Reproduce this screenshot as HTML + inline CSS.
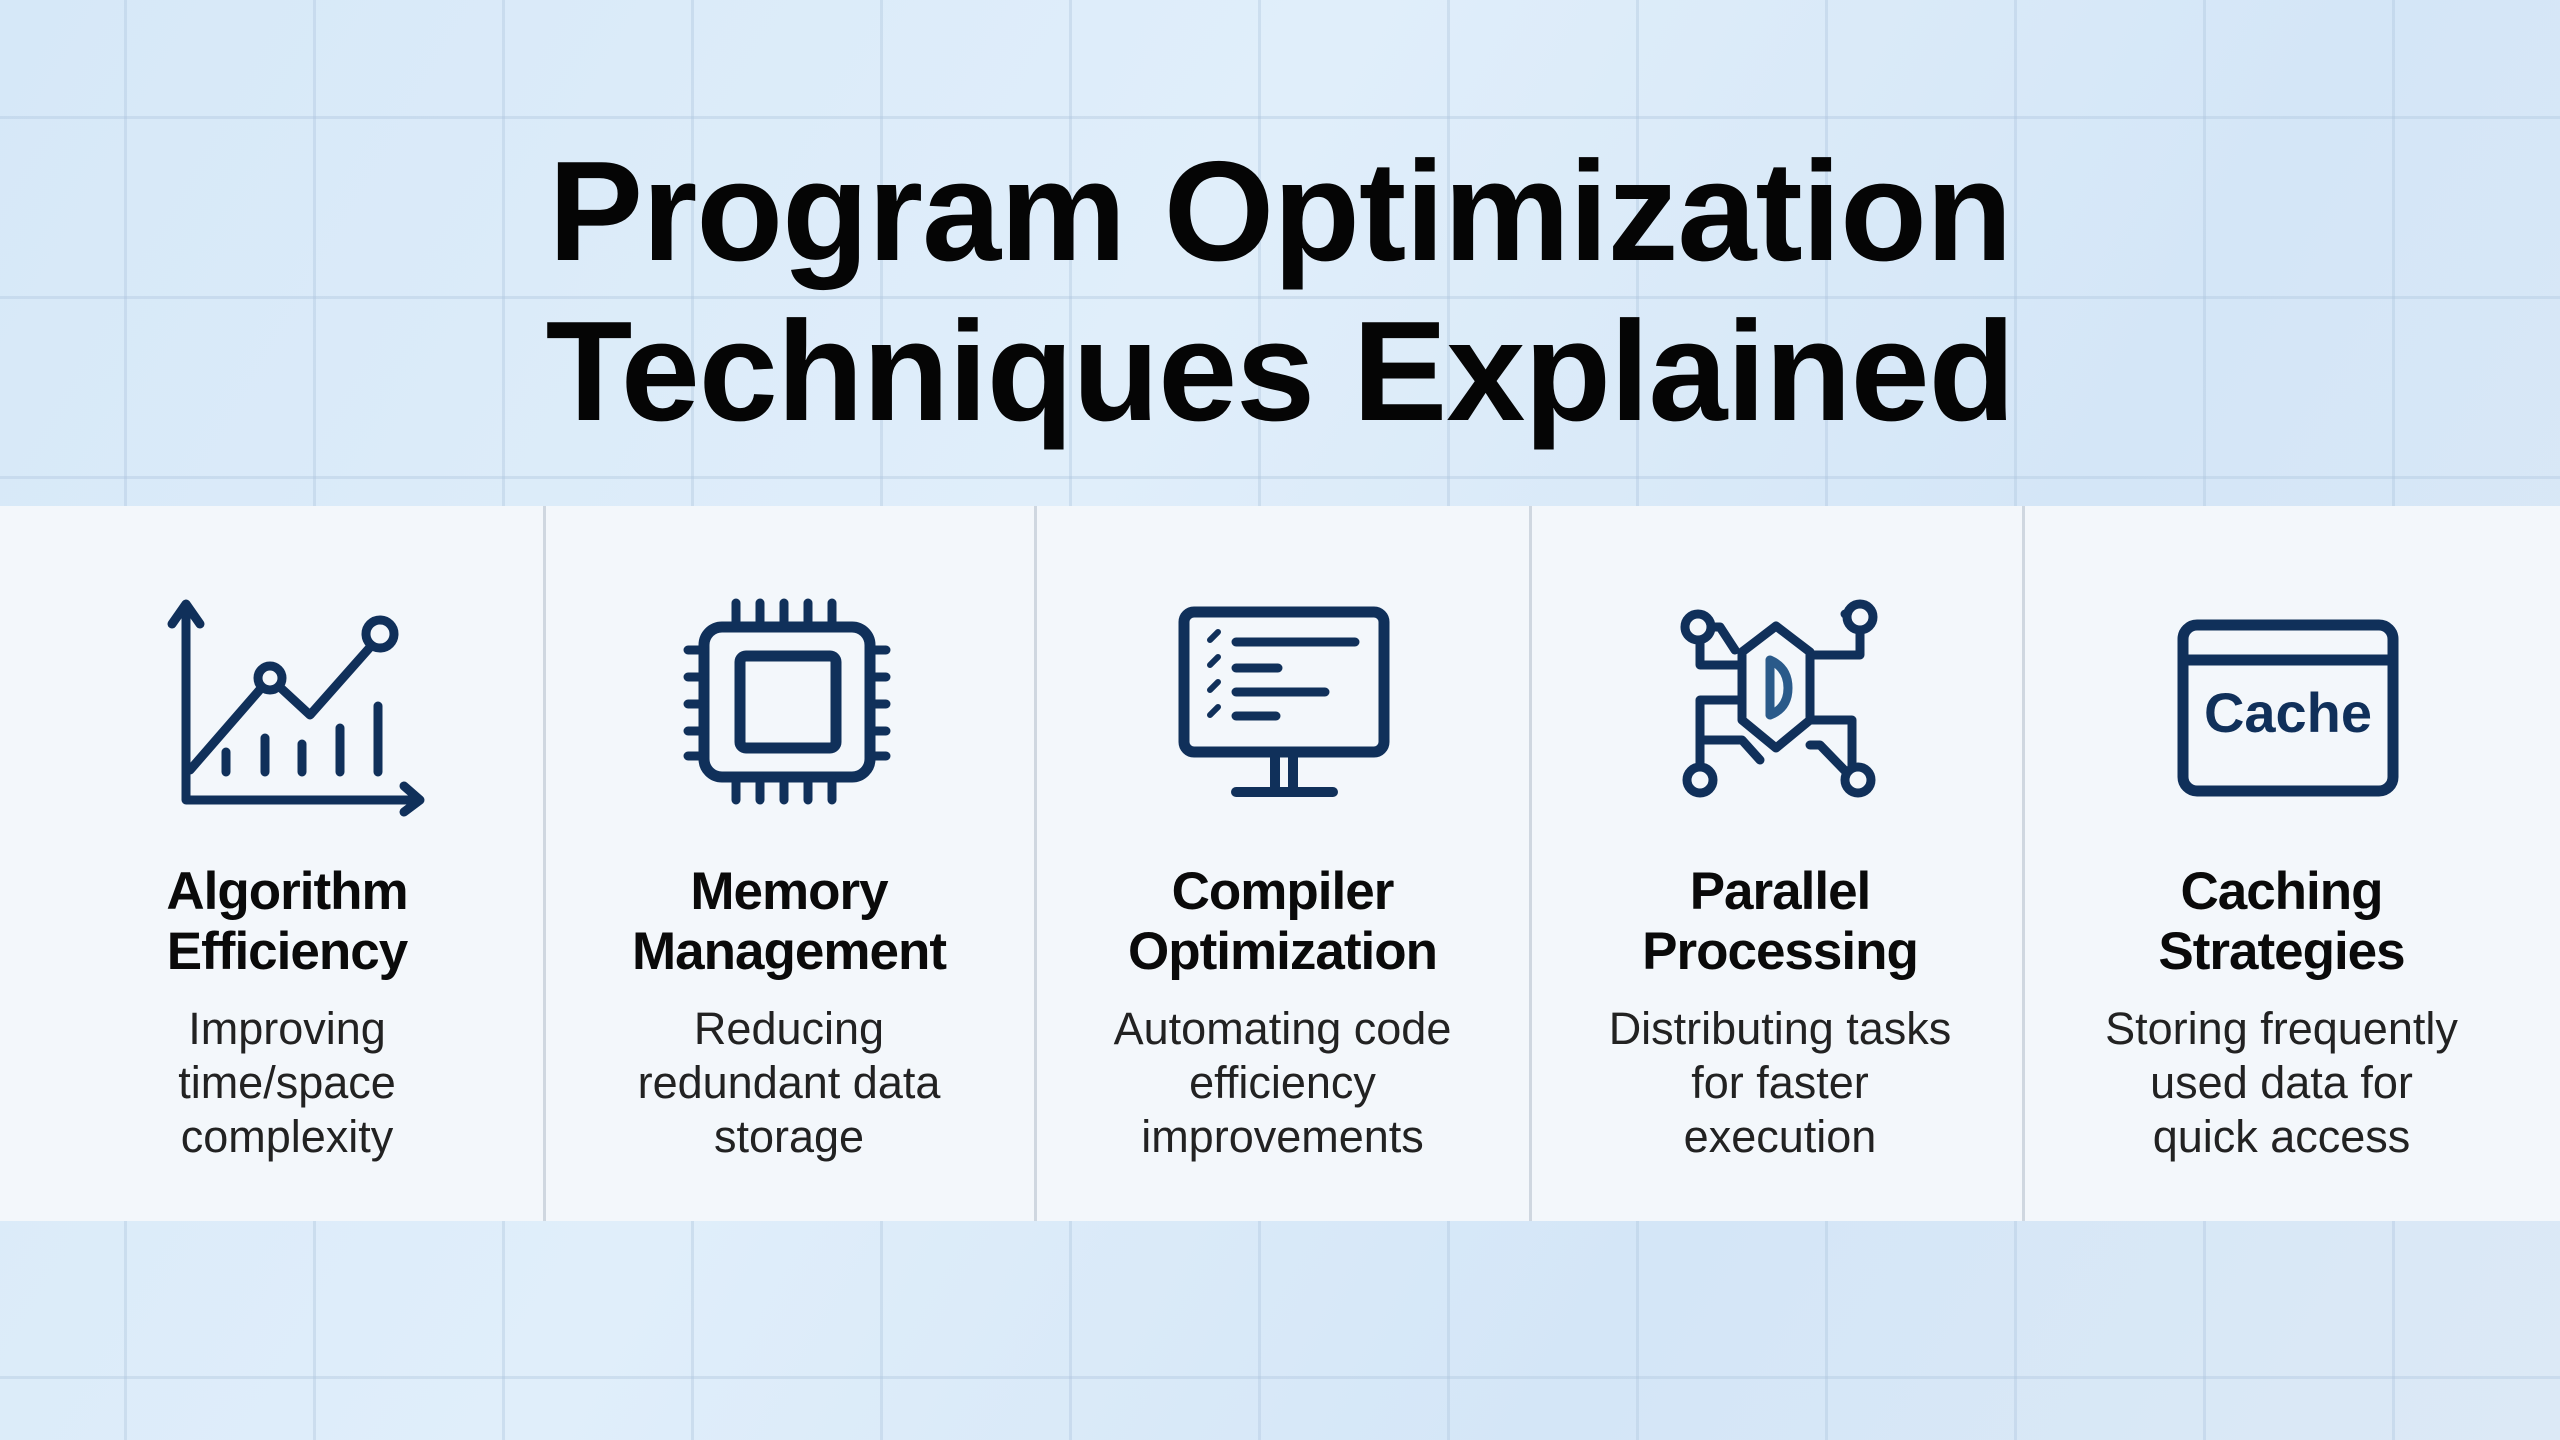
<!DOCTYPE html>
<html><head><meta charset="utf-8"><style>
html,body{margin:0;padding:0}
body{width:2560px;height:1440px;overflow:hidden;position:relative;font-family:"Liberation Sans",sans-serif;
background:linear-gradient(120deg,#d6e8f8 0%,#e0eefa 40%,#d4e6f7 70%,#dce9f6 100%);}
.grid{position:absolute;inset:0;
background-image:linear-gradient(90deg,rgba(175,198,222,.4) 3px,transparent 3px),linear-gradient(0deg,rgba(175,198,222,.4) 3px,transparent 3px);
background-size:189px 180px;background-position:124px 119px;}
.title{position:absolute;left:0;width:2560px;top:132px;text-align:center;font-weight:bold;font-size:142px;line-height:160px;color:#050505;letter-spacing:-1px}
.panel{position:absolute;left:0;top:506px;width:2560px;height:715px;background:#f3f7fb}
.div{position:absolute;top:506px;height:715px;width:3px;background:#cfd7e0}
.col{position:absolute;top:862px;text-align:center;color:#0a0a0a}
.col h2{margin:0;font-size:53px;line-height:60px;font-weight:bold;letter-spacing:-1px}
.col p{margin:20px 0 0;font-size:45px;line-height:54px;color:#222}
</style></head><body>
<div class="grid"></div>
<div class="title">Program Optimization<br>Techniques Explained</div>
<div class="panel"></div>
<div class="div" style="left:543px"></div>
<div class="div" style="left:1034px"></div>
<div class="div" style="left:1529px"></div>
<div class="div" style="left:2022px"></div>
<svg style="position:absolute;left:0;top:0" width="2560" height="1440" fill="none" stroke="#10305a" stroke-width="9" stroke-linecap="round" stroke-linejoin="round">
<path d="M186 608 V800 H418"/><path d="M172 624 L186 604 L200 624"/><path d="M404 786 L420 800 L404 812"/>
<path d="M190 770 L270 678 L310 715 L380 636"/>
<circle cx="270" cy="678" r="12" fill="#f3f7fb"/><circle cx="380" cy="634" r="14" fill="#f3f7fb"/>
<path d="M226 752V772M265 738V772M302 744V772M340 728V772M378 706V772"/>
<rect x="704" y="627" width="166" height="150" rx="18" stroke-width="11"/>
<rect x="740" y="656" width="96" height="92" rx="6" stroke-width="11"/>
<path d="M736 603V627M760 603V627M784 603V627M808 603V627M832 603V627M736 777V800M760 777V800M784 777V800M808 777V800M832 777V800"/>
<path d="M688 650H704M688 677H704M688 704H704M688 731H704M688 756H704M870 650H886M870 677H886M870 704H886M870 731H886M870 756H886"/>
<rect x="1184" y="612" width="200" height="140" rx="10" stroke-width="11"/>
<path d="M1275 752V790M1293 752V790M1236 792H1333" stroke-width="10"/>
<path d="M1210 640l8-8M1210 665l8-8M1210 690l8-8M1210 715l8-8" stroke-width="6"/>
<path d="M1236 642H1355M1236 668H1278M1236 692H1325M1236 716H1276" stroke-width="9"/>
<path d="M1776 626 L1810 652 V720 L1776 748 L1742 720 V652 Z"/>
<path d="M1770 660 V715 M1770 660 q18 8 18 28 q0 20 -18 27" stroke="#2a5a8a"/>
<path d="M1700 627 H1720 L1735 650 M1700 627 V665 H1742 M1860 622 V655 H1810 M1870 614 H1845"/>
<path d="M1742 700 H1700 V780 M1700 740 H1742 L1760 760 M1810 720 H1852 V780 M1810 745 H1820 L1852 778"/>
<circle cx="1698" cy="627" r="13" fill="#f3f7fb"/><circle cx="1860" cy="617" r="13" fill="#f3f7fb"/>
<circle cx="1700" cy="780" r="13" fill="#f3f7fb"/><circle cx="1858" cy="780" r="13" fill="#f3f7fb"/>
<rect x="2183" y="625" width="210" height="166" rx="14" stroke-width="11"/>
<path d="M2186 660H2390" stroke-width="11"/>
<text x="2288" y="732" text-anchor="middle" font-family="Liberation Sans,sans-serif" font-weight="bold" font-size="56" fill="#10305a" stroke="none">Cache</text>
</svg>
<div class="col" style="left:0;width:574px"><h2>Algorithm<br>Efficiency</h2><p>Improving<br>time/space<br>complexity</p></div>
<div class="col" style="left:544px;width:490px"><h2>Memory<br>Management</h2><p>Reducing<br>redundant data<br>storage</p></div>
<div class="col" style="left:1035px;width:495px"><h2>Compiler<br>Optimization</h2><p>Automating code<br>efficiency<br>improvements</p></div>
<div class="col" style="left:1530px;width:500px"><h2>Parallel<br>Processing</h2><p>Distributing tasks<br>for faster<br>execution</p></div>
<div class="col" style="left:2023px;width:517px"><h2>Caching<br>Strategies</h2><p>Storing frequently<br>used data for<br>quick access</p></div>
</body></html>
